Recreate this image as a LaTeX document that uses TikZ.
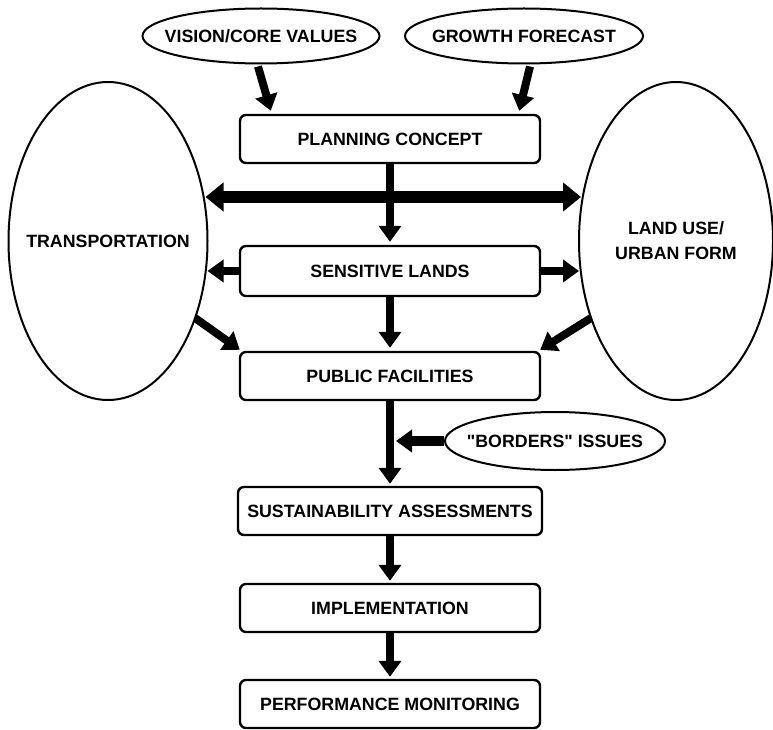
\documentclass[tikz,border=0pt]{standalone}
\usepackage{fontspec}
\setmainfont{Liberation Sans}
\usetikzlibrary{shapes.geometric,arrows.meta,calc}
% text that does not widen the oval around it
\newcommand{\ovaltext}[1]{\makebox[0pt]{#1}}
\begin{document}
\begin{tikzpicture}[x=1pt,y=-1pt,
  font=\bfseries\fontsize{17.8}{25}\selectfont,
  stepbox/.style={draw,line width=2.4pt,rounded corners=6pt,inner sep=0pt,
    minimum width=300pt,minimum height=48pt,align=center},
  oval/.style={draw,ellipse,line width=2pt,inner sep=0pt,align=center},
  flow/.style={line width=8pt,-{Triangle[width=22pt,length=16pt]}},
  wideflow/.style={line width=12pt,{Triangle[width=28pt,length=18pt]}-{Triangle[width=28pt,length=18pt]}}]
\useasboundingbox (0,0) rectangle (773,730);

% inputs on top
\node[oval,minimum width=237pt,minimum height=55pt] (vis) at (261,36) {\ovaltext{VISION/CORE VALUES}};
\node[oval,minimum width=238pt,minimum height=55pt] (gro) at (524,36) {\ovaltext{GROWTH FORECAST}};

% main column
\node[stepbox] (plan) at (390,139) {PLANNING CONCEPT};
\node[stepbox,minimum height=50pt] (sens) at (390,271) {SENSITIVE LANDS};
\node[stepbox] (pub) at (390,376) {PUBLIC FACILITIES};
\node[stepbox,minimum width=304pt] (sus) at (390,511) {SUSTAINABILITY ASSESSMENTS};
\node[stepbox] (imp) at (390,608) {IMPLEMENTATION};
\node[stepbox] (perf) at (390,704) {PERFORMANCE MONITORING};

% side ovals
\node[oval,minimum width=199pt,minimum height=318pt] (trans) at (108,241) {\ovaltext{TRANSPORTATION}};
\node[oval,minimum width=194pt,minimum height=318pt] (land) at (676,241) {\ovaltext{LAND USE/}\\\ovaltext{URBAN FORM}};
\node[oval,minimum width=220pt,minimum height=58pt] (bord) at (555,441) {\ovaltext{\textquotedbl BORDERS\textquotedbl{} ISSUES}};

% connectors
\draw[flow] ($(vis.south)+(-3,2)$) -- ($(plan.north west)+(32,-3)$);
\draw[flow] ($(gro.south)+(6,2)$) -- ($(plan.north east)+(-22,-3)$);
\draw[wideflow] ($(trans.east)+(-3,-44)$) -- ($(land.west)+(3,-44)$);
\draw[flow] (plan.south) -- ($(sens.north)+(0,-3)$);
\draw[flow] (sens.west) -- ($(sens.west -| trans.east)+(-1,0)$);
\draw[flow] (sens.east) -- ($(sens.east -| land.west)+(1,0)$);
\draw[flow] (sens.south) -- ($(pub.north)+(0,-3)$);
\draw[flow] ($(trans.center)+(87,77)$) -- ($(pub.north west)+(1,-1)$);
\draw[flow] ($(land.center)+(-85,77)$) -- ($(pub.north east)+(-1,-1)$);
\draw[flow] (pub.south) -- ($(sus.north)+(0,-2)$);
\draw[flow,line width=10pt] (bord.west) -- ($(bord.west -| pub.south)+(6,0)$);
\draw[flow] (sus.south) -- ($(imp.north)+(0,-2)$);
\draw[flow] (imp.south) -- ($(perf.north)+(0,-2)$);
\end{tikzpicture}
\end{document}
